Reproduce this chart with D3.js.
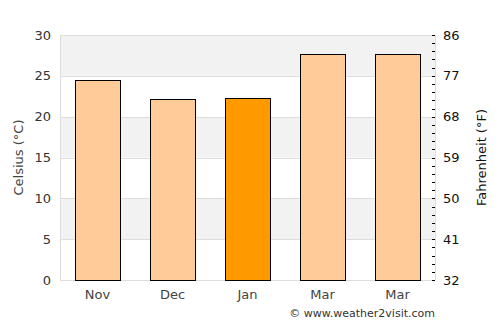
<!DOCTYPE html>
<html>
<head>
<meta charset="utf-8">
<script src="https://cdn.jsdelivr.net/npm/d3@7"></script>
<style>
  body { margin: 0; background: #fff; }
  text { font-family: "DejaVu Sans", sans-serif; }
</style>
</head>
<body>
<div id="chart"></div>
<script>
var months = ["Nov", "Dec", "Jan", "Mar", "Mar"];
var celsius = [24.5, 22.2, 22.3, 27.7, 27.7];
var highlight = [false, false, true, false, false];
var cTicks = [0, 5, 10, 15, 20, 25, 30];
var fTicks = [32, 41, 50, 59, 68, 77, 86];

var margin = { top: 35, right: 65, bottom: 45, left: 60 },
  width = 500 - margin.left - margin.right,
  height = 325 - margin.top - margin.bottom;

var svg = d3
  .select("#chart")
  .append("svg")
  .attr("width", 500)
  .attr("height", 325)
  .append("g")
  .attr("transform", "translate(" + margin.left + "," + margin.top + ")");

const x = d3.scaleBand().domain(d3.range(months.length)).range([0, width])
  .paddingInner(0.4).paddingOuter(0.2);
const y = d3.scaleLinear().domain([0, 30]).range([height, 0]);
const yF = d3.scaleLinear().domain([32, 86]).range([height, 0]);

// alternating bands
svg.append("g")
  .selectAll("rect")
  .data(d3.range(0, 30, 5))
  .join("rect")
  .attr("x", 0)
  .attr("width", width)
  .attr("y", d => y(d + 5))
  .attr("height", d => y(d) - y(d + 5))
  .attr("fill", d => (d / 5) % 2 == 1 ? "#f2f2f2" : "#fff");

svg.append("g")
  .selectAll("line")
  .data(cTicks)
  .join("line")
  .attr("x1", 0).attr("x2", width)
  .attr("y1", d => Math.round(y(d)) + 0.5).attr("y2", d => Math.round(y(d)) + 0.5)
  .attr("stroke", "#dddddd");

svg.append("line")
  .attr("x1", 0.5).attr("x2", 0.5).attr("y1", 0).attr("y2", height)
  .attr("stroke", "#dddddd");
svg.append("line")
  .attr("x1", width + 0.5).attr("x2", width + 0.5).attr("y1", 0).attr("y2", height)
  .attr("stroke", "#dddddd");

// bars
svg.append("g")
  .selectAll("rect")
  .data(celsius)
  .join("rect")
  .attr("x", (d, i) => Math.round(x(i)) + 0.5)
  .attr("width", Math.round(x.bandwidth()))
  .attr("y", d => Math.round(y(d)) + 0.5)
  .attr("height", d => height - Math.round(y(d)))
  .attr("fill", (d, i) => highlight[i] ? "#ff9900" : "#ffcc99")
  .attr("stroke", "#000")
  .attr("stroke-width", 1);

// left axis labels
svg.append("g")
  .selectAll("text")
  .data(cTicks)
  .join("text")
  .attr("x", -9)
  .attr("y", d => y(d))
  .attr("dy", "0.35em")
  .attr("text-anchor", "end")
  .attr("font-size", 13)
  .attr("fill", "#333")
  .text(d => d);

// x labels
svg.append("g")
  .selectAll("text")
  .data(months)
  .join("text")
  .attr("x", (d, i) => x(i) + x.bandwidth() / 2)
  .attr("y", height + 19)
  .attr("text-anchor", "middle")
  .attr("font-size", 13)
  .attr("fill", "#444")
  .text(d => d);

// right axis: minor ticks every 1 °C, labelled in °F
var cMinor = d3.range(0, 31, 1);
svg.append("g")
  .selectAll("line")
  .data(cMinor)
  .join("line")
  .attr("x1", width - 3).attr("x2", width)
  .attr("y1", d => Math.round(y(d)) + 0.5).attr("y2", d => Math.round(y(d)) + 0.5)
  .attr("stroke", "#000")
  .attr("stroke-width", 1);

svg.append("g")
  .selectAll("text")
  .data(fTicks)
  .join("text")
  .attr("x", width + 8)
  .attr("y", d => yF(d))
  .attr("dy", "0.35em")
  .attr("font-size", 13)
  .attr("fill", "#111")
  .text(d => d);

svg.append("text")
  .attr("transform", "translate(-37," + height / 2 + ") rotate(-90)")
  .attr("text-anchor", "middle")
  .attr("font-size", 13)
  .attr("fill", "#444")
  .text("Celsius (°C)");

svg.append("text")
  .attr("transform", "translate(" + (width + 51) + "," + height / 2 + ") rotate(-90)")
  .attr("text-anchor", "middle")
  .attr("font-size", 13)
  .attr("fill", "#111")
  .text("Fahrenheit (°F)");

svg.append("text")
  .attr("x", width)
  .attr("y", height + 37)
  .attr("text-anchor", "end")
  .attr("font-size", 11)
  .attr("fill", "#333")
  .text("© www.weather2visit.com");
</script>
</body>
</html>
